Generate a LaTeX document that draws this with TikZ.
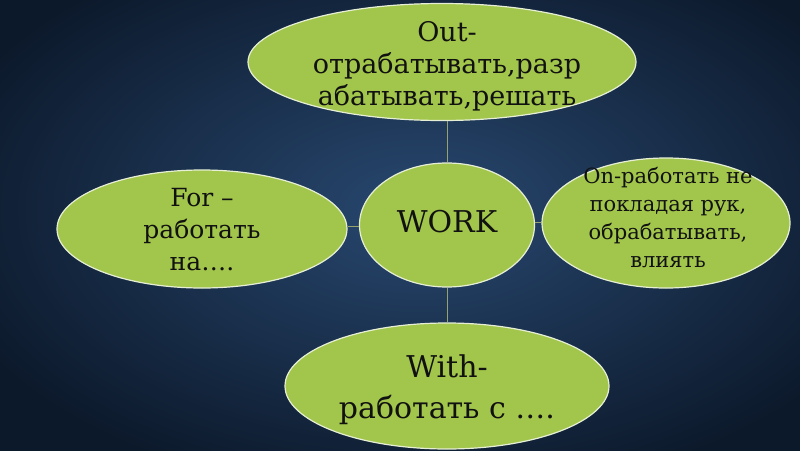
\documentclass[tikz,border=0pt]{standalone}
\usepackage{fontspec}
\setmainfont{DejaVu Serif}
\usetikzlibrary{shapes.geometric}
\definecolor{bginner}{HTML}{284870}
\definecolor{bgouter}{HTML}{0C192B}
\definecolor{leaf}{HTML}{A2C64B}
\definecolor{rim}{HTML}{E6EFD6}
\definecolor{link}{HTML}{96A36E}
\definecolor{ink}{HTML}{111111}
\tikzset{
  bubble/.style={ellipse, fill=leaf, draw=rim, line width=1.2pt, inner sep=0pt},
  txt/.style={text=ink, align=center, inner sep=0pt},
  conn/.style={draw=link, line width=1pt}
}
\begin{document}
\begin{tikzpicture}[x=1pt,y=-1pt]
\useasboundingbox (0,0) rectangle (800,450);
\shade[inner color=bginner, outer color=bgouter] (-80,-80) rectangle (920,500);
% bubbles
\node[bubble, minimum width=388pt, minimum height=117pt] (out) at (442,62) {};
\node[bubble, minimum width=175pt, minimum height=124pt] (work) at (447,225) {};
\node[bubble, minimum width=248pt, minimum height=130pt] (on) at (666,223) {};
\node[bubble, minimum width=290pt, minimum height=118pt] (for) at (202,229) {};
\node[bubble, minimum width=324pt, minimum height=126pt] (with) at (447,386) {};
% connectors
\draw[conn] (work.north) -- (work.north |- out.south);
\draw[conn] (work.south) -- (work.south |- with.north);
\draw[conn] ([yshift=-1pt]work.west) -- ([yshift=-1pt]work.west -| for.east);
\draw[conn] ([yshift=3pt]work.east) -- ([yshift=3pt]work.east -| on.west);
% texts
\node[txt, font=\fontsize{27}{32}\selectfont] (out-t) at (447,66) {Out-\\отрабатывать,разр\\абатывать,решать};
\node[txt, font=\fontsize{30}{36}\selectfont] (work-t) at (447,222) {WORK};
\node[txt, font=\fontsize{21}{28}\selectfont] (on-t) at (668,217) {On-работать не\\покладая рук,\\обрабатывать,\\влиять};
\node[txt, font=\fontsize{25}{32}\selectfont] (for-t) at (202,230) {For –\\работать\\на….};
\node[txt, font=\fontsize{30}{41}\selectfont] (with-t) at (447,390) {With-\\работать с ….};
\end{tikzpicture}
\end{document}
